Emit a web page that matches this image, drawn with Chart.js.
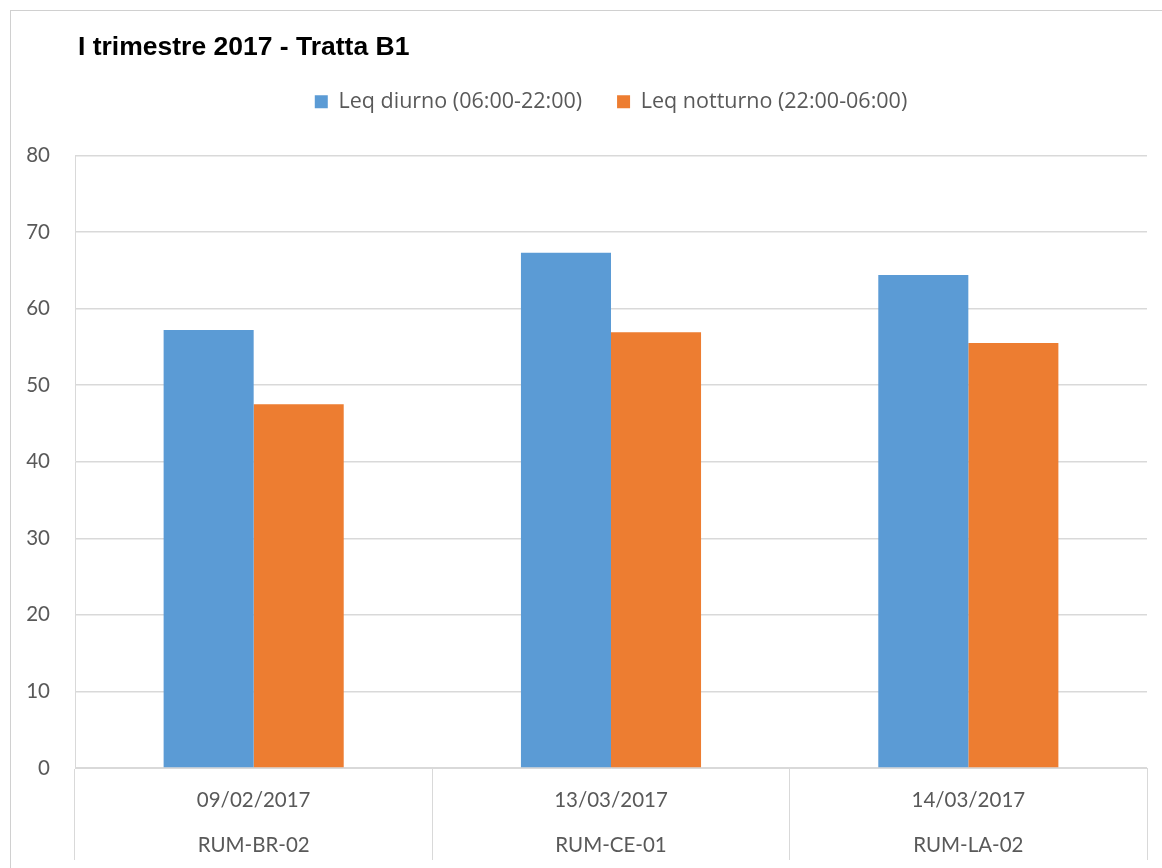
<!DOCTYPE html>
<html>
<head>
<meta charset="utf-8">
<script src="https://cdn.jsdelivr.net/npm/chart.js@4.4.1/dist/chart.umd.min.js"></script>
<style>
  html, body { margin: 0; padding: 0; background: #fff; overflow: hidden; }
  #wrap { position: relative; width: 1162px; height: 868px; }
  #frame { position: absolute; left: 10px; top: 10px; width: 1200px; height: 900px;
           border: 1px solid #d0d0d0; box-sizing: border-box; pointer-events: none; }
  canvas { position: absolute; left: 0; top: 0; }
</style>
</head>
<body>
<div id="wrap">
  <div id="frame"></div>
  <canvas id="chart" width="1162" height="868"></canvas>
</div>
<script>
"use strict";

/* ---- dati ---- */
const TITOLO = "I trimestre 2017 - Tratta B1";
const date = ["09/02/2017", "13/03/2017", "14/03/2017"];
const stazioni = ["RUM-BR-02", "RUM-CE-01", "RUM-LA-02"];
const leqDiurno = [57.2, 67.3, 64.4];
const leqNotturno = [47.5, 56.9, 55.5];
const yTicks = [0, 10, 20, 30, 40, 50, 60, 70, 80];

const FONT = "Lato, 'Open Sans', sans-serif";
const GRIGIO = "#595959";
const GRID = "#d9d9d9";

// titolo disegnato a sinistra (come Excel)
const titoloPlugin = {
  id: "titoloExcel",
  afterDraw(chart) {
    const ctx = chart.ctx;
    ctx.save();
    ctx.font = "bold 26.5px 'Liberation Sans', Arial, sans-serif";
    ctx.fillStyle = "#000";
    ctx.textAlign = "left";
    ctx.textBaseline = "middle";
    ctx.fillText(TITOLO, 78, 48);
    ctx.restore();
  }
};

const labels = date.map((d, i) => [d, stazioni[i]]);

new Chart(document.getElementById("chart").getContext("2d"), {
  type: "bar",
  data: {
    labels,
    datasets: [
      { label: "Leq diurno (06:00-22:00)", data: leqDiurno, backgroundColor: "#5B9BD5",
        categoryPercentage: 0.504, barPercentage: 1.0 },
      { label: "Leq notturno (22:00-06:00)", data: leqNotturno, backgroundColor: "#ED7D31",
        categoryPercentage: 0.504, barPercentage: 1.0 }
    ]
  },
  options: {
    responsive: false,
    animation: false,
    layout: { padding: { top: 56, left: 10, right: 15, bottom: 0 } },
    plugins: {
      legend: {
        position: "top",
        fullSize: false,
        weight: 1000,
        labels: {
          boxWidth: 13, boxHeight: 13, padding: 35,
          color: GRIGIO, font: { family: "'Open Sans', sans-serif", size: 21.5 }
        }
      },
      subtitle: {
        display: true, text: "", weight: 500, fullSize: false,
        font: { size: 1, lineHeight: 1 },
        padding: { top: 32, bottom: 0 }
      },
      title: { display: false },
      tooltip: { enabled: false }
    },
    scales: {
      x: {
        grid: { offset: true, drawOnChartArea: false, drawTicks: true, tickLength: 92, color: GRID },
        border: { color: GRID },
        ticks: {
          color: GRIGIO, padding: -82.5,
          font: { family: FONT, size: 20.5, lineHeight: 45 / 20.5 },
          maxRotation: 0, autoSkip: false
        },
        afterFit(axis) { axis.height = 100; }
      },
      y: {
        min: 0, max: 80,
        ticks: {
          stepSize: 10,
          color: GRIGIO, padding: 25, font: { family: FONT, size: 20.5 },
          callback: (v) => (yTicks.includes(v) ? String(v) : "")
        },
        grid: { color: GRID, drawTicks: false, lineWidth: 1.5 },
        border: { display: true, color: GRID },
        afterFit(axis) { axis.width = 65; }
      }
    }
  },
  plugins: [titoloPlugin]
});
</script>
</body>
</html>
